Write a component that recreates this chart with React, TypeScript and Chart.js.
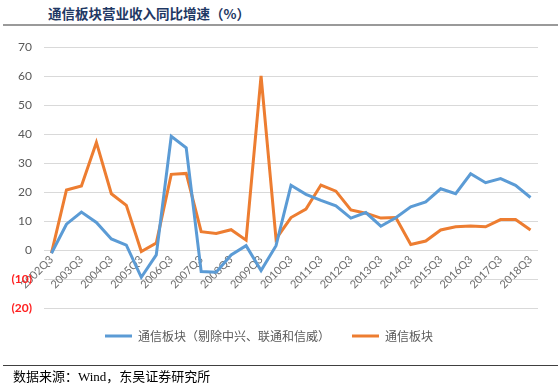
import React, { useEffect, useRef } from "react";
import { Chart, registerables } from "chart.js";

Chart.register(...registerables);

const TITLE = "通信板块营业收入同比增速（%）";
const SOURCE = "数据来源：Wind，东吴证券研究所";

const categories: string[] = [
  "2002Q3", "2003Q1", "2003Q3", "2004Q1", "2004Q3", "2005Q1", "2005Q3", "2006Q1",
  "2006Q3", "2007Q1", "2007Q3", "2008Q1", "2008Q3", "2009Q1", "2009Q3", "2010Q1",
  "2010Q3", "2011Q1", "2011Q3", "2012Q1", "2012Q3", "2013Q1", "2013Q3", "2014Q1",
  "2014Q3", "2015Q1", "2015Q3", "2016Q1", "2016Q3", "2017Q1", "2017Q3", "2018Q1",
  "2018Q3",
];

const seriesExName = "通信板块（剔除中兴、联通和信威）";
const seriesExValues: number[] = [
  -1.1, 8.9, 13.1, 9.5, 3.8, 1.7, -9.4, -1.7,
  39.2, 35.2, -7.4, -7.7, -1.7, 1.5, -7.1, 1.5,
  22.3, 19.2, 17.1, 15.2, 11.0, 12.9, 8.2, 11.1,
  14.9, 16.6, 21.1, 19.4, 26.3, 23.2, 24.6, 22.3,
  18.1,
];

const seriesAllName = "通信板块";
const seriesAllValues: number[] = [
  -1.1, 20.7, 22.1, 37.1, 19.4, 15.4, -0.5, 2.4,
  26.1, 26.4, 6.3, 5.7, 7.0, 3.4, 60.0, 3.8,
  11.2, 14.1, 22.4, 20.3, 13.8, 12.7, 11.0, 11.2,
  1.9, 3.1, 6.9, 8.0, 8.3, 8.0, 10.5, 10.5,
  6.9,
];

const yMin = -20;
const yMax = 70;
const yStep = 10;

export default function App() {
  const canvasRef = useRef<HTMLCanvasElement | null>(null);

  useEffect(() => {
    if (!canvasRef.current) return;
    const chart = new Chart(canvasRef.current, {
      type: "line",
      data: {
        labels: categories,
        datasets: [
          {
            label: seriesExName,
            data: seriesExValues,
            borderColor: "#5B9BD5",
            backgroundColor: "#5B9BD5",
            borderWidth: 3,
            pointRadius: 0,
            tension: 0,
          },
          {
            label: seriesAllName,
            data: seriesAllValues,
            borderColor: "#ED7D31",
            backgroundColor: "#ED7D31",
            borderWidth: 3,
            pointRadius: 0,
            tension: 0,
          },
        ],
      },
      options: {
        animation: false,
        responsive: false,
        devicePixelRatio: 1,
        layout: { padding: { top: 47, left: 0, right: 20, bottom: 34 } },
        plugins: {
          title: { display: false },
          tooltip: { enabled: false },
          legend: {
            display: true,
            position: "bottom",
            labels: {
              usePointStyle: true,
              pointStyle: "line",
              pointStyleWidth: 27,
              boxHeight: 12,
              padding: 22,
              color: "#595959",
              font: { size: 12, family: "'Noto Sans CJK SC', Lato, sans-serif" },
            },
          },
        },
        scales: {
          x: {
            type: "category",
            offset: true,
            position: { y: 0 } as any,
            grid: { display: false, drawTicks: false },
            border: { display: false },
            ticks: {
              autoSkip: false,
              minRotation: 45,
              maxRotation: 45,
              padding: 3,
              color: "#6E6E6E",
              font: { size: 11, family: "Lato, 'Liberation Sans', sans-serif" },
              callback: (_v: any, i: number) => (i % 2 === 0 ? categories[i] : ""),
            },
          },
          y: {
            min: yMin,
            max: yMax,
            grid: { color: "#D9D9D9", lineWidth: 1, drawTicks: false },
            border: { display: false },
            afterFit: (scale: any) => {
              scale.width = 44;
            },
            ticks: {
              stepSize: yStep,
              padding: 12,
              color: (ctx: any) => (ctx.tick && ctx.tick.value < 0 ? "#FF2020" : "#595959"),
              font: (ctx: any) => ({
                size: 12,
                family: "Lato, 'Liberation Sans', sans-serif",
                weight: ctx.tick && ctx.tick.value < 0 ? "bold" : "normal",
              }),
              callback: (v: any) => {
                const n = Number(v);
                return n < 0 ? `(${-n})` : `${n}`;
              },
            },
          },
        },
      },
    });
    return () => chart.destroy();
  }, []);

  return (
    <div
      style={{
        position: "absolute",
        left: 0,
        top: 0,
        width: 558,
        height: 386,
        background: "#ffffff",
        overflow: "hidden",
      }}
    >
      <div
        style={{
          position: "absolute",
          left: 48,
          top: 4,
          fontFamily: "'Noto Sans CJK SC', sans-serif",
          fontWeight: 700,
          fontSize: 13.5,
          lineHeight: "18px",
          color: "#1F3864",
          whiteSpace: "nowrap",
        }}
      >
        {TITLE}
      </div>
      <div
        style={{
          position: "absolute",
          left: 3,
          top: 24,
          width: 555,
          height: 2,
          background: "#9A9A9A",
        }}
      />
      <canvas
        ref={canvasRef}
        width={558}
        height={386}
        style={{ position: "absolute", left: 0, top: 0, width: 558, height: 386 }}
      />
      <div
        style={{
          position: "absolute",
          left: 3,
          top: 365,
          width: 555,
          height: 1,
          background: "#404040",
        }}
      />
      <div
        style={{
          position: "absolute",
          left: 13,
          top: 368,
          fontFamily: "'Liberation Serif', 'Noto Sans CJK SC', serif",
          fontSize: 13,
          lineHeight: "18px",
          color: "#000000",
          whiteSpace: "nowrap",
        }}
      >
        {SOURCE}
      </div>
    </div>
  );
}
